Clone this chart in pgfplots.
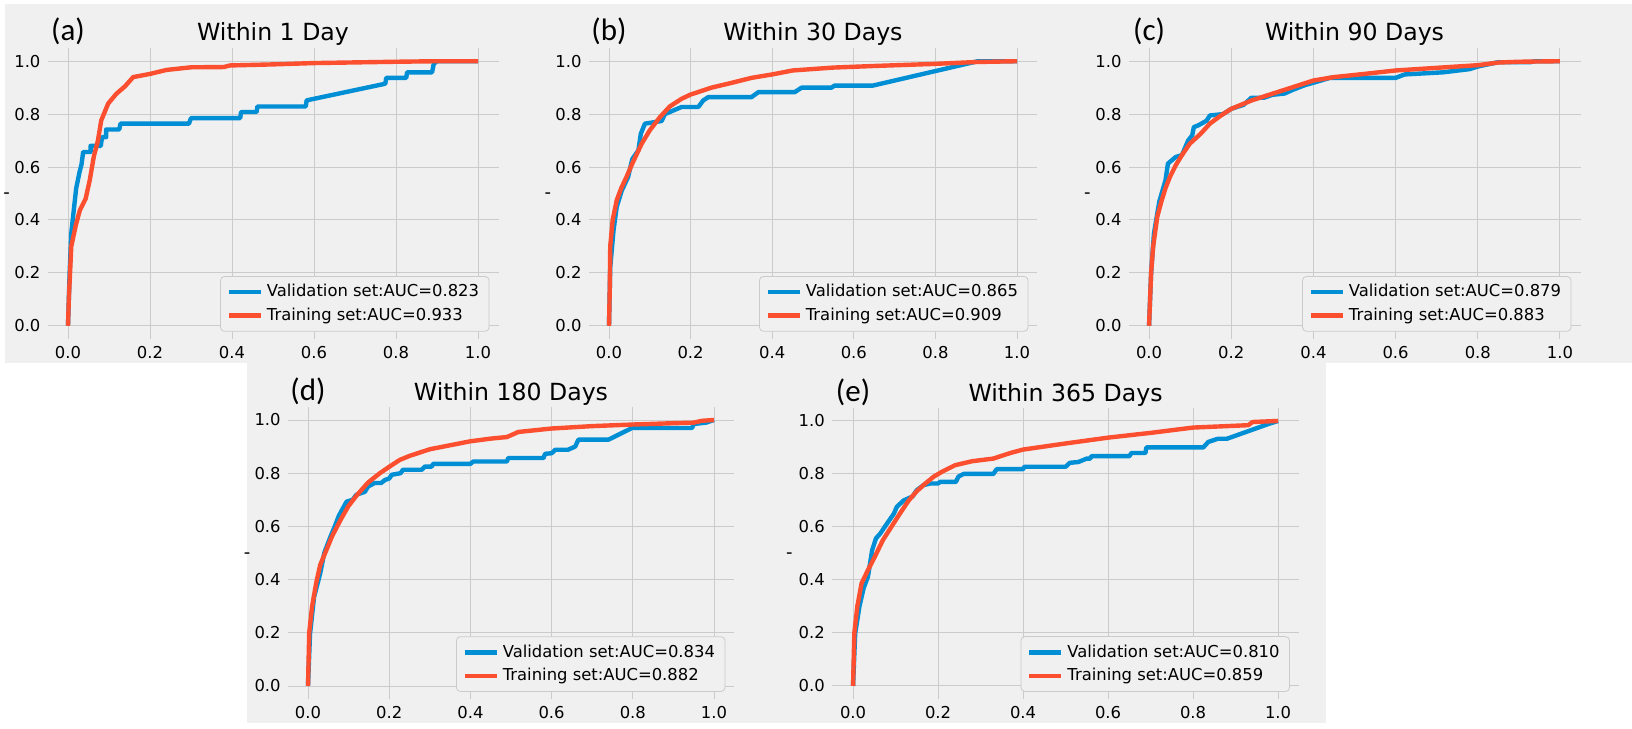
\documentclass[border=0pt]{standalone}
\usepackage{fontspec}
\setmainfont{DejaVu Sans}
\newfontfamily\panelfont{Carlito}
\usepackage{pgfplots}
\pgfplotsset{compat=1.18}
\definecolor{bg}{HTML}{F0F0F0}
\definecolor{gridc}{HTML}{CBCBCB}
\definecolor{valblue}{HTML}{008FD5}
\definecolor{trred}{HTML}{FC4F30}

\pgfplotsset{roc/.style={
  scale only axis, anchor=south west, clip=false,
  xmin=-0.05, xmax=1.05, ymin=-0.05, ymax=1.05,
  xtick={0,0.2,0.4,0.6,0.8,1}, ytick={0,0.2,0.4,0.6,0.8,1},
  grid=major, grid style={gridc, line width=0.5pt},
  axis line style={draw=none}, major tick length=0pt,
  /pgf/number format/fixed, /pgf/number format/fixed zerofill,
  /pgf/number format/precision=1, /pgf/number format/assume math mode=true,
  tick label style={font=\fontsize{8.2}{9}\selectfont},
  legend style={at={(0.98,0.025)}, anchor=south east, fill=bg, draw=gridc,
    font=\fontsize{8.2}{10}\selectfont, rounded corners=2pt},
  legend cell align=left,
  legend image code/.code={\draw[#1, line width=2.2pt] (0pt,0pt) -- (16pt,0pt);},
  every axis plot/.append style={line width=2.2pt, line join=round},
}}
% panel label, title and the lone "-" y label
\newcommand{\decor}[3]{%
  \node[anchor=base, font=\panelfont\fontsize{15.5}{17}\selectfont] at (axis cs:0,#3) {#1};
  \node[anchor=base, font=\fontsize{11.8}{13}\selectfont] at (axis cs:0.5,#3) {#2};
  \node[font=\fontsize{9}{9}\selectfont] at (axis cs:-0.15,0.49) {-};
}

\begin{document}
\begin{tikzpicture}
\fill[bg] (2.5pt,182.5pt) rectangle (816pt,362pt);
\fill[bg] (123.5pt,2.5pt) rectangle (663pt,182.5pt);

% (a)
\begin{axis}[roc, at={(23.75pt,194.5pt)}, width=225.5pt, height=145.5pt]
\addplot[valblue] coordinates {(0,0) (0.004,0.2) (0.008,0.35) (0.015,0.45) (0.02,0.52) (0.028,0.58) (0.033,0.61) (0.037,0.657) (0.055,0.657) (0.055,0.68) (0.08,0.68) (0.083,0.713) (0.093,0.713) (0.093,0.742) (0.125,0.742) (0.128,0.764) (0.295,0.764) (0.3,0.785) (0.42,0.785) (0.422,0.808) (0.46,0.808) (0.462,0.829) (0.58,0.829) (0.582,0.852) (0.774,0.915) (0.776,0.937) (0.825,0.937) (0.827,0.958) (0.888,0.958) (0.892,0.99) (0.9,1) (1,1)};
\addlegendentry{Validation set:AUC=0.823}
\addplot[trred] coordinates {(0,0) (0.002,0.1) (0.005,0.2) (0.008,0.3) (0.019,0.38) (0.029,0.437) (0.043,0.48) (0.053,0.55) (0.063,0.64) (0.073,0.70) (0.081,0.776) (0.098,0.84) (0.118,0.877) (0.139,0.905) (0.159,0.94) (0.2,0.952) (0.24,0.967) (0.3,0.977) (0.38,0.978) (0.395,0.984) (0.5,0.988) (0.6,0.993) (0.8,0.998) (0.9,1) (1,1)};
\addlegendentry{Training set:AUC=0.933}
\decor{(a)}{Within 1 Day}{1.079}
\end{axis}

% (b)
\begin{axis}[roc, at={(294.3pt,194.5pt)}, width=224.4pt, height=145.5pt]
\addplot[valblue] coordinates {(0,0) (0.003,0.22) (0.011,0.36) (0.019,0.45) (0.031,0.51) (0.047,0.563) (0.057,0.63) (0.072,0.663) (0.078,0.726) (0.088,0.764) (0.129,0.774) (0.137,0.80) (0.158,0.814) (0.178,0.827) (0.219,0.827) (0.231,0.852) (0.243,0.864) (0.349,0.864) (0.366,0.883) (0.455,0.883) (0.472,0.9) (0.545,0.9) (0.553,0.908) (0.647,0.908) (0.904,1) (1,1)};
\addlegendentry{Validation set:AUC=0.865}
\addplot[trred] coordinates {(0,0) (0.002,0.15) (0.003,0.3) (0.009,0.4) (0.019,0.475) (0.03,0.52) (0.043,0.563) (0.057,0.613) (0.08,0.688) (0.1,0.739) (0.125,0.789) (0.149,0.829) (0.178,0.858) (0.2,0.874) (0.251,0.9) (0.3,0.918) (0.349,0.937) (0.4,0.95) (0.45,0.965) (0.55,0.976) (0.65,0.982) (0.8,0.99) (0.9,0.997) (1,1)};
\addlegendentry{Training set:AUC=0.909}
\decor{(b)}{Within 30 Days}{1.079}
\end{axis}

% (c)
\begin{axis}[roc, at={(564.25pt,194.5pt)}, width=226pt, height=145.5pt]
\addplot[valblue] coordinates {(0,0) (0.005,0.2) (0.012,0.35) (0.025,0.47) (0.04,0.55) (0.046,0.613) (0.055,0.625) (0.065,0.638) (0.08,0.645) (0.095,0.70) (0.105,0.72) (0.109,0.751) (0.119,0.757) (0.14,0.775) (0.148,0.795) (0.18,0.80) (0.2,0.82) (0.23,0.835) (0.249,0.862) (0.28,0.862) (0.3,0.873) (0.33,0.878) (0.35,0.892) (0.38,0.91) (0.403,0.92) (0.44,0.937) (0.6,0.937) (0.622,0.95) (0.68,0.955) (0.715,0.958) (0.78,0.97) (0.8,0.98) (0.849,0.996) (0.926,0.996) (0.94,1) (1,1)};
\addlegendentry{Validation set:AUC=0.879}
\addplot[trred] coordinates {(0,0) (0.005,0.2) (0.01,0.3) (0.02,0.412) (0.03,0.47) (0.04,0.52) (0.05,0.56) (0.065,0.607) (0.08,0.645) (0.099,0.688) (0.125,0.725) (0.148,0.764) (0.175,0.795) (0.2,0.82) (0.25,0.852) (0.3,0.877) (0.35,0.902) (0.4,0.927) (0.45,0.94) (0.5,0.948) (0.6,0.965) (0.7,0.975) (0.8,0.985) (0.85,0.995) (0.9,0.998) (1,1)};
\addlegendentry{Training set:AUC=0.883}
\decor{(c)}{Within 90 Days}{1.079}
\end{axis}

% (d)
\begin{axis}[roc, at={(143.85pt,14.35pt)}, width=223.3pt, height=146.3pt]
\addplot[valblue] coordinates {(0,0) (0.005,0.197) (0.015,0.335) (0.03,0.423) (0.04,0.5) (0.055,0.56) (0.066,0.6) (0.076,0.64) (0.086,0.668) (0.095,0.693) (0.11,0.70) (0.119,0.719) (0.14,0.73) (0.148,0.75) (0.164,0.763) (0.18,0.763) (0.19,0.775) (0.2,0.78) (0.206,0.794) (0.228,0.8) (0.234,0.813) (0.28,0.813) (0.288,0.825) (0.305,0.825) (0.308,0.835) (0.4,0.835) (0.407,0.844) (0.49,0.844) (0.493,0.857) (0.58,0.857) (0.584,0.873) (0.6,0.875) (0.609,0.888) (0.64,0.888) (0.658,0.9) (0.666,0.926) (0.74,0.926) (0.798,0.97) (0.946,0.97) (0.95,0.985) (0.98,0.99) (1,1)};
\addlegendentry{Validation set:AUC=0.834}
\addplot[trred] coordinates {(0,0) (0.003,0.2) (0.01,0.298) (0.02,0.386) (0.03,0.455) (0.045,0.51) (0.059,0.562) (0.08,0.624) (0.099,0.675) (0.119,0.715) (0.148,0.765) (0.177,0.8) (0.201,0.825) (0.226,0.85) (0.25,0.865) (0.3,0.89) (0.35,0.905) (0.4,0.92) (0.45,0.93) (0.49,0.936) (0.518,0.955) (0.6,0.968) (0.7,0.977) (0.8,0.983) (0.9,0.988) (0.95,0.99) (0.97,0.997) (1,1)};
\addlegendentry{Training set:AUC=0.882}
\decor{(d)}{Within 180 Days}{1.075}
\end{axis}

% (e)
\begin{axis}[roc, at={(415.9pt,14.4pt)}, width=233.75pt, height=145.75pt]
\addplot[valblue] coordinates {(0,0) (0.005,0.198) (0.015,0.3) (0.025,0.37) (0.035,0.412) (0.045,0.513) (0.054,0.557) (0.064,0.575) (0.08,0.613) (0.096,0.65) (0.103,0.676) (0.119,0.70) (0.14,0.715) (0.15,0.739) (0.166,0.758) (0.182,0.764) (0.2,0.764) (0.205,0.77) (0.242,0.77) (0.248,0.79) (0.26,0.8) (0.33,0.8) (0.338,0.818) (0.4,0.818) (0.403,0.827) (0.5,0.827) (0.51,0.842) (0.53,0.845) (0.55,0.858) (0.558,0.858) (0.561,0.867) (0.65,0.867) (0.655,0.879) (0.688,0.879) (0.69,0.9) (0.824,0.9) (0.836,0.921) (0.859,0.933) (0.88,0.933) (0.98,0.99) (1,1)};
\addlegendentry{Validation set:AUC=0.810}
\addplot[trred] coordinates {(0,0) (0.003,0.2) (0.01,0.3) (0.02,0.387) (0.035,0.437) (0.051,0.487) (0.07,0.55) (0.09,0.6) (0.11,0.65) (0.131,0.70) (0.15,0.735) (0.17,0.764) (0.19,0.79) (0.209,0.808) (0.24,0.833) (0.28,0.848) (0.33,0.858) (0.37,0.879) (0.4,0.892) (0.5,0.915) (0.6,0.937) (0.7,0.955) (0.8,0.975) (0.93,0.984) (0.94,0.996) (1,1)};
\addlegendentry{Training set:AUC=0.859}
\decor{(e)}{Within 365 Days}{1.075}
\end{axis}

\pgfresetboundingbox
\path[use as bounding box] (0pt,0pt) rectangle (816pt,364pt);
\end{tikzpicture}
\end{document}
